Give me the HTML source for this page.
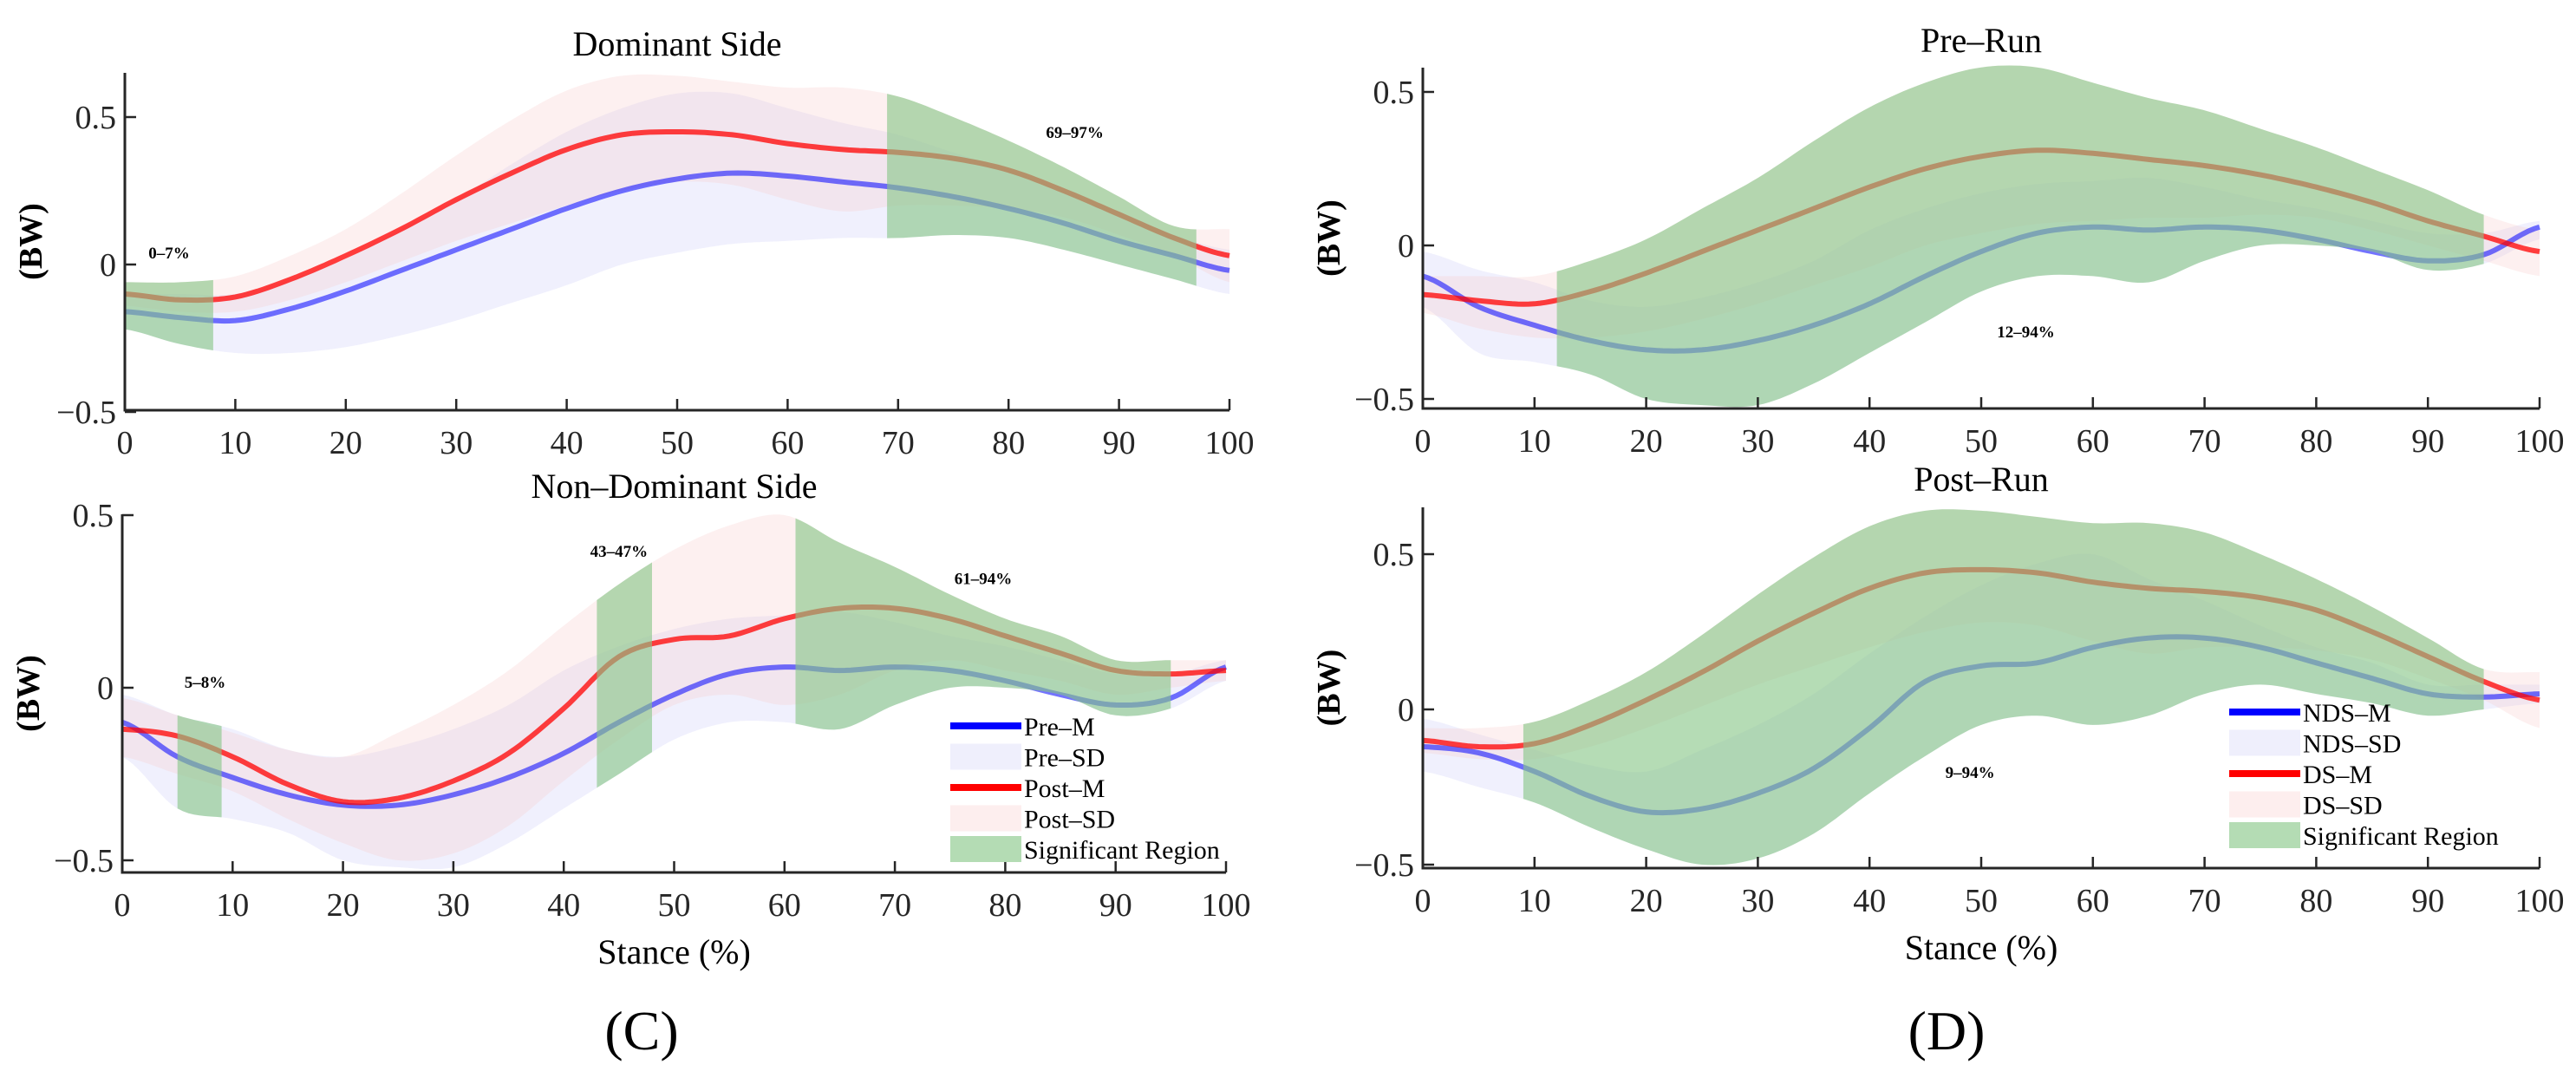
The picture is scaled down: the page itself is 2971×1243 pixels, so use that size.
<!DOCTYPE html>
<html><head><meta charset="utf-8">
<style>
body{margin:0;background:#fff;}
svg{display:block;}
svg text{font-family:"Liberation Serif","Times New Roman",serif;}
</style></head>
<body>
<svg id="fig" width="2971" height="1243" viewBox="0 0 2971 1243" xmlns="http://www.w3.org/2000/svg" font-family="Liberation Serif, serif"></svg>
<script>
// x samples (Stance %)
const stance = [0,5,10,15,20,25,30,35,40,45,50,55,60,65,70,75,80,85,90,95,100];
// Dominant side, pre-run
const domPreMean = [-0.16,-0.18,-0.19,-0.15,-0.09,-0.02,0.05,0.12,0.19,0.25,0.29,0.31,0.30,0.28,0.26,0.23,0.19,0.14,0.08,0.03,-0.02];
const domPreUp   = [-0.10,-0.10,-0.10,-0.05,0.02,0.12,0.22,0.34,0.45,0.53,0.58,0.58,0.53,0.48,0.44,0.38,0.32,0.25,0.18,0.10,0.05];
const domPreLo   = [-0.22,-0.27,-0.30,-0.30,-0.28,-0.24,-0.19,-0.13,-0.07,0.00,0.04,0.07,0.08,0.09,0.09,0.10,0.09,0.05,0.00,-0.05,-0.10];
// Dominant side, post-run
const domPostMean = [-0.10,-0.12,-0.11,-0.05,0.03,0.12,0.22,0.31,0.39,0.44,0.45,0.44,0.41,0.39,0.38,0.36,0.32,0.25,0.17,0.09,0.03];
const domPostUp   = [-0.06,-0.06,-0.04,0.03,0.12,0.24,0.37,0.49,0.59,0.64,0.64,0.62,0.60,0.60,0.57,0.50,0.42,0.33,0.23,0.13,0.12];
const domPostLo   = [-0.14,-0.16,-0.16,-0.12,-0.06,0.01,0.08,0.14,0.20,0.25,0.28,0.27,0.22,0.18,0.20,0.20,0.19,0.16,0.10,0.03,-0.06];
// Non-dominant side, pre-run
const ndPreMean = [-0.10,-0.20,-0.26,-0.31,-0.34,-0.34,-0.31,-0.26,-0.19,-0.10,-0.02,0.04,0.06,0.05,0.06,0.05,0.02,-0.02,-0.05,-0.03,0.06];
const ndPreUp   = [-0.02,-0.08,-0.12,-0.18,-0.20,-0.17,-0.12,-0.05,0.05,0.12,0.17,0.20,0.21,0.22,0.19,0.15,0.12,0.08,0.04,0.04,0.08];
const ndPreLo   = [-0.20,-0.35,-0.38,-0.42,-0.50,-0.52,-0.52,-0.45,-0.35,-0.25,-0.15,-0.10,-0.10,-0.12,-0.05,0.00,0.00,-0.02,-0.08,-0.06,0.02];
// Non-dominant side, post-run
const ndPostMean = [-0.12,-0.14,-0.20,-0.28,-0.33,-0.32,-0.27,-0.19,-0.06,0.09,0.14,0.15,0.20,0.23,0.23,0.20,0.15,0.10,0.05,0.04,0.05];
const ndPostUp   = [-0.03,-0.08,-0.13,-0.18,-0.20,-0.13,-0.05,0.05,0.18,0.30,0.40,0.47,0.50,0.42,0.35,0.27,0.20,0.15,0.08,0.08,0.08];
const ndPostLo   = [-0.20,-0.25,-0.30,-0.38,-0.45,-0.50,-0.48,-0.40,-0.27,-0.15,-0.05,-0.02,-0.05,-0.02,0.05,0.08,0.05,0.02,-0.02,0.00,0.02];
// significant regions
const sigDom = [[0,8],[69,97]];
const sigNonDom = [[5,9],[43,48],[61,95]];
const sigPre = [[12,95]];
const sigPost = [[9,95]];
const xTicks = [0,10,20,30,40,50,60,70,80,90,100];
const yTicks = [-0.5,0,0.5];
const yTickLabels = ["\u22120.5","0","0.5"];

const NS="http://www.w3.org/2000/svg";
const svg=document.getElementById('fig');
const FONT='Liberation Serif, Times New Roman, serif';
function mk(tag,attrs,parent){const e=document.createElementNS(NS,tag);for(const k in attrs)e.setAttribute(k,attrs[k]);if(tag==='text')e.setAttribute('font-family',FONT);(parent||svg).appendChild(e);return e;}
function interp(arr,x){
  const h=5;let i=Math.min(Math.floor(x/h),arr.length-2);const t=(x-i*h)/h;
  const p0=arr[Math.max(i-1,0)],p1=arr[i],p2=arr[i+1],p3=arr[Math.min(i+2,arr.length-1)];
  return 0.5*((2*p1)+(-p0+p2)*t+(2*p0-5*p1+4*p2-p3)*t*t+(-p0+3*p1-3*p2+p3)*t*t*t);
}
function panel(o){
  const g=mk('g',{});
  
  
  const X=v=>o.x0+(o.x1-o.x0)*v/100;
  const Y=v=>o.yz-v*o.sc;
  const line=(arr,a,b)=>{let s='';for(let x=a;x<=b+1e-9;x+=0.5){s+=(s?'L':'M')+X(x).toFixed(1)+','+Y(interp(arr,x)).toFixed(1);}return s;};
  const band=(up,lo,a,b)=>{let s='';for(let x=a;x<=b+1e-9;x+=0.5)s+=(s?'L':'M')+X(x).toFixed(1)+','+Y(up(x)).toFixed(1);for(let x=b;x>=a-1e-9;x-=0.5)s+='L'+X(x).toFixed(1)+','+Y(lo(x)).toFixed(1);return s+'Z';};
  let e=mk('path',{d:band(x=>interp(o.aUp,x),x=>interp(o.aLo,x),0,100),fill:'rgb(205,205,250)','fill-opacity':0.3},g);
  
  e=mk('path',{d:band(x=>interp(o.bUp,x),x=>interp(o.bLo,x),0,100),fill:'rgb(250,205,205)','fill-opacity':0.3},g);
  
  e=mk('path',{d:line(o.aM,0,100),fill:'none',stroke:'#0000ff','stroke-opacity':0.55,'stroke-width':6},g);
  
  e=mk('path',{d:line(o.bM,0,100),fill:'none',stroke:'#ff0000','stroke-opacity':0.75,'stroke-width':6},g);
  
  o.sig.forEach((r,i)=>{
    const up=x=>Math.max(interp(o.aUp,x),interp(o.bUp,x));
    const lo=x=>Math.min(interp(o.aLo,x),interp(o.bLo,x));
    const p=mk('path',{d:band(up,lo,r[0],r[1]),fill:'rgb(135,198,135)','fill-opacity':0.62},g);
    
    
  });
  o.ann.forEach(a=>{
    const t=mk('text',{x:X(a[1]),y:Y(a[2]),'font-size':19,'font-weight':'bold','text-anchor':'middle'},g);
    t.textContent=a[0];
    
    
  });
  e=mk('path',{d:`M${o.x0},${o.top}V${o.bot}H${o.x1}`,fill:'none',stroke:'#262626','stroke-width':3},g);
  
  xTicks.forEach(v=>{
    const tk=mk('line',{x1:X(v),x2:X(v),y1:o.bot,y2:o.bot-13,stroke:'#262626','stroke-width':2.5},g);
    
    const t=mk('text',{x:X(v),y:o.bot+50,'font-size':38,'text-anchor':'middle',fill:'#262626'},g);
    t.textContent=v;
    
  });
  yTicks.forEach((v,i)=>{
    const tk=mk('line',{x1:o.x0,x2:o.x0+13,y1:Y(v),y2:Y(v),stroke:'#262626','stroke-width':2.5},g);
    
    const t=mk('text',{x:o.x0-10,y:Y(v)+13,'font-size':38,'text-anchor':'end',fill:'#262626'},g);
    t.textContent=yTickLabels[i];
    
  });
  const yl=mk('text',{x:0,y:0,'font-size':38,'font-weight':'bold','text-anchor':'middle',transform:`translate(${o.x0-96},${(o.top+o.bot)/2}) rotate(-90)`},g);
  yl.textContent='(BW)';
  
  const tt=mk('text',{x:(o.x0+o.x1)/2,y:o.titleY,'font-size':40,'text-anchor':'middle'},g);
  tt.textContent=o.title;
  
  if(o.xlabel){
    const xl=mk('text',{x:(o.x0+o.x1)/2,y:o.bot+105,'font-size':40,'text-anchor':'middle'},g);
    xl.textContent='Stance (%)';
    
  }
  if(o.legend){
    const lg=mk('g',{},g);
    
    o.legend.forEach((it,i)=>{
      const y=o.legY+i*35.5;
      let s;
      if(it[1]==='line') s=mk('rect',{x:o.legX,y:y-4,width:82,height:8,fill:it[2]},lg);
      else s=mk('rect',{x:o.legX,y:y-15,width:82,height:30,fill:it[2]},lg);
      
      const t=mk('text',{x:o.legX+85,y:y+11,'font-size':30},lg);
      t.textContent=it[0];
      
    });
  }
}
panel({name:'dominant-side-panel',title:'Dominant Side',x0:144,x1:1418,yz:305,sc:340,top:84,bot:473,titleY:64,
  aM:domPreMean,aUp:domPreUp,aLo:domPreLo,bM:domPostMean,bUp:domPostUp,bLo:domPostLo,la:'pre',lb:'post',sig:sigDom,
  ann:[['0\u20137%',4,0.02],['69\u201397%',86,0.43]]});
panel({name:'non-dominant-side-panel',title:'Non\u2013Dominant Side',x0:141,x1:1414,yz:793,sc:398,top:593,bot:1006,titleY:574,xlabel:true,
  aM:ndPreMean,aUp:ndPreUp,aLo:ndPreLo,bM:ndPostMean,bUp:ndPostUp,bLo:ndPostLo,la:'pre',lb:'post',sig:sigNonDom,
  ann:[['5\u20138%',7.5,0.0],['43\u201347%',45,0.38],['61\u201394%',78,0.3]],
  legX:1096,legY:837,legend:[['Pre\u2013M','line','#0000ff'],['Pre\u2013SD','patch','#efeffc'],['Post\u2013M','line','#ff0000'],['Post\u2013SD','patch','#fdeeee'],['Significant Region','patch','#b4dcb4']]});
panel({name:'pre-run-panel',title:'Pre\u2013Run',x0:1641,x1:2929,yz:283,sc:354,top:78,bot:471,titleY:60,
  aM:ndPreMean,aUp:ndPreUp,aLo:ndPreLo,bM:domPreMean,bUp:domPreUp,bLo:domPreLo,la:'nds',lb:'ds',sig:sigPre,
  ann:[['12\u201394%',54,-0.3]]});
panel({name:'post-run-panel',title:'Post\u2013Run',x0:1641,x1:2929,yz:818,sc:358,top:585,bot:1001,titleY:566,xlabel:true,
  aM:ndPostMean,aUp:ndPostUp,aLo:ndPostLo,bM:domPostMean,bUp:domPostUp,bLo:domPostLo,la:'nds',lb:'ds',sig:sigPost,
  ann:[['9\u201394%',49,-0.22]],
  legX:2571,legY:821,legend:[['NDS\u2013M','line','#0000ff'],['NDS\u2013SD','patch','#efeffc'],['DS\u2013M','line','#ff0000'],['DS\u2013SD','patch','#fdeeee'],['Significant Region','patch','#b4dcb4']]});
let c=mk('text',{x:740,y:1210,'font-size':64,'text-anchor':'middle'});c.textContent='(C)';

c=mk('text',{x:2245,y:1210,'font-size':64,'text-anchor':'middle'});c.textContent='(D)';

</script>
</body></html>
